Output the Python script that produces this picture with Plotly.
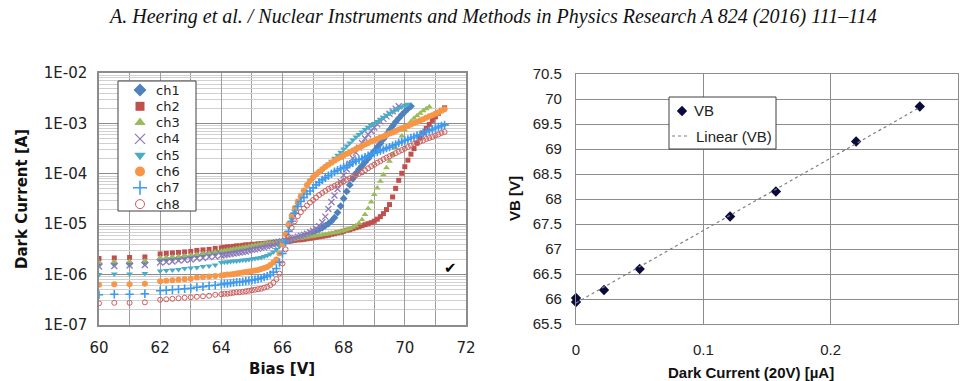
import numpy as np
import plotly.graph_objects as go

# ---------------- data: left panel (dark current vs bias, 8 channels) ----------------
bias_V = [60.0, 60.5, 61.0, 61.5,
          62.0, 62.2, 62.4, 62.6, 62.8, 63.0, 63.2, 63.4, 63.6, 63.8,
          64.0, 64.1, 64.2, 64.3, 64.4, 64.5, 64.6, 64.7, 64.8, 64.9,
          65.0, 65.1, 65.2, 65.3, 65.4, 65.5, 65.6, 65.7, 65.8, 65.9,
          66.0, 66.1, 66.2, 66.3, 66.4, 66.5, 66.6, 66.7, 66.8, 66.9,
          67.0, 67.1, 67.2, 67.3, 67.4, 67.5, 67.6, 67.7, 67.8, 67.9,
          68.0, 68.1, 68.2, 68.3, 68.4, 68.5, 68.6, 68.7, 68.8, 68.9,
          69.0, 69.1, 69.2, 69.3, 69.4, 69.5, 69.6, 69.7, 69.8, 69.9,
          70.0, 70.1, 70.2, 70.3, 70.4, 70.5, 70.6, 70.7, 70.8, 70.9,
          71.0, 71.1, 71.2, 71.3]

# dark current values, stored as log10(I / A)
ch1_log10A = [-5.79, -5.78, -5.78, -5.76,
              -5.70, -5.69, -5.68, -5.67, -5.65, -5.64, -5.62, -5.60, -5.58, -5.56,
              -5.54, -5.53, -5.52, -5.51, -5.50, -5.49, -5.48, -5.47, -5.46, -5.45,
              -5.44, -5.43, -5.42, -5.41, -5.40, -5.39, -5.38, -5.37, -5.36, -5.35,
              -5.34, -5.33, -5.32, -5.31, -5.30, -5.28, -5.26, -5.24, -5.22, -5.19,
              -5.16, -5.13, -5.10, -5.07, -5.03, -4.99, -4.94, -4.87, -4.77, -4.64,
              -4.49, -4.35, -4.22, -4.10, -3.99, -3.91, -3.84, -3.77, -3.70, -3.62,
              -3.55, -3.47, -3.40, -3.31, -3.22, -3.13, -3.05, -2.97, -2.90, -2.83,
              -2.77, -2.71, -2.66]
ch2_log10A = [-5.68, -5.67, -5.66, -5.65,
              -5.59, -5.58, -5.57, -5.56, -5.55, -5.54, -5.52, -5.51, -5.50, -5.48,
              -5.47, -5.46, -5.45, -5.45, -5.44, -5.43, -5.43, -5.42, -5.41, -5.41,
              -5.40, -5.40, -5.39, -5.39, -5.38, -5.38, -5.37, -5.37, -5.36, -5.36,
              -5.35, -5.34, -5.34, -5.33, -5.32, -5.31, -5.31, -5.30, -5.29, -5.28,
              -5.27, -5.26, -5.25, -5.24, -5.23, -5.22, -5.20, -5.19, -5.17, -5.16,
              -5.14, -5.12, -5.11, -5.09, -5.07, -5.05, -5.03, -5.01, -4.99, -4.97,
              -4.94, -4.90, -4.85, -4.79, -4.71, -4.61, -4.46, -4.29, -4.13, -3.99,
              -3.86, -3.73, -3.61, -3.50, -3.39, -3.29, -3.19, -3.10, -3.02, -2.94,
              -2.87, -2.80, -2.74, -2.69]
ch3_log10A = [-5.76, -5.75, -5.74, -5.73,
              -5.67, -5.66, -5.65, -5.64, -5.63, -5.61, -5.60, -5.58, -5.57, -5.55,
              -5.53, -5.52, -5.51, -5.50, -5.49, -5.48, -5.47, -5.46, -5.45, -5.44,
              -5.43, -5.42, -5.41, -5.40, -5.39, -5.38, -5.37, -5.37, -5.36, -5.35,
              -5.34, -5.33, -5.32, -5.31, -5.30, -5.29, -5.28, -5.27, -5.26, -5.25,
              -5.24, -5.23, -5.22, -5.21, -5.20, -5.19, -5.18, -5.17, -5.16, -5.14,
              -5.13, -5.11, -5.09, -5.06, -5.03, -4.98, -4.91, -4.81, -4.69, -4.56,
              -4.41, -4.28, -4.15, -4.02, -3.88, -3.75, -3.62, -3.49, -3.38, -3.25,
              -3.13, -3.04, -2.96, -2.90, -2.85, -2.80, -2.75, -2.71, -2.67]
ch4_log10A = [-5.84, -5.83, -5.82, -5.81,
              -5.76, -5.75, -5.74, -5.72, -5.71, -5.70, -5.68, -5.67, -5.65, -5.64,
              -5.62, -5.61, -5.60, -5.59, -5.58, -5.57, -5.56, -5.55, -5.54, -5.53,
              -5.51, -5.50, -5.49, -5.47, -5.46, -5.44, -5.43, -5.41, -5.39, -5.37,
              -5.35, -5.33, -5.31, -5.29, -5.27, -5.25, -5.23, -5.21, -5.19, -5.16,
              -5.13, -5.09, -5.04, -4.96, -4.85, -4.70, -4.56, -4.43, -4.30, -4.16,
              -4.03, -3.91, -3.80, -3.69, -3.58, -3.48, -3.39, -3.30, -3.22, -3.15,
              -3.08, -3.02, -2.96, -2.91, -2.86, -2.81, -2.76, -2.71, -2.66]
ch5_log10A = [-6.00, -5.99, -5.99, -5.98,
              -5.93, -5.92, -5.91, -5.90, -5.88, -5.87, -5.86, -5.84, -5.83, -5.81,
              -5.76, -5.75, -5.75, -5.74, -5.73, -5.73, -5.72, -5.71, -5.71, -5.70,
              -5.69, -5.68, -5.67, -5.66, -5.64, -5.62, -5.59, -5.55, -5.50, -5.44,
              -5.34, -5.20, -5.05, -4.90, -4.75, -4.61, -4.48, -4.36, -4.24, -4.15,
              -4.08, -4.02, -3.97, -3.93, -3.87, -3.81, -3.75, -3.69, -3.63, -3.57,
              -3.51, -3.45, -3.39, -3.33, -3.27, -3.22, -3.17, -3.12, -3.08, -3.04,
              -3.00, -2.96, -2.92, -2.88, -2.84, -2.80, -2.77, -2.73, -2.70, -2.67,
              -2.64, -2.62]
ch6_log10A = [-6.20, -6.19, -6.19, -6.18,
              -6.13, -6.12, -6.11, -6.10, -6.09, -6.08, -6.06, -6.05, -6.04, -6.03,
              -6.02, -6.01, -6.00, -6.00, -5.99, -5.98, -5.97, -5.96, -5.95, -5.94,
              -5.93, -5.92, -5.91, -5.89, -5.87, -5.85, -5.81, -5.76, -5.70, -5.58,
              -5.40, -5.20, -5.00, -4.83, -4.68, -4.55, -4.44, -4.33, -4.22, -4.14,
              -4.07, -4.01, -3.96, -3.91, -3.86, -3.82, -3.78, -3.74, -3.70, -3.67,
              -3.63, -3.60, -3.57, -3.54, -3.51, -3.48, -3.45, -3.42, -3.39, -3.36,
              -3.34, -3.31, -3.28, -3.26, -3.23, -3.20, -3.18, -3.15, -3.12, -3.10,
              -3.07, -3.05, -3.02, -2.99, -2.97, -2.94, -2.92, -2.89, -2.86, -2.84,
              -2.81, -2.78, -2.75, -2.72]
ch7_log10A = [-6.40, -6.39, -6.39, -6.38,
              -6.32, -6.31, -6.30, -6.29, -6.28, -6.27, -6.25, -6.24, -6.22, -6.21,
              -6.19, -6.18, -6.18, -6.17, -6.16, -6.15, -6.15, -6.14, -6.13, -6.12,
              -6.11, -6.10, -6.09, -6.07, -6.05, -6.03, -6.00, -5.95, -5.88, -5.76,
              -5.58, -5.36, -5.14, -4.94, -4.78, -4.65, -4.55, -4.47, -4.40, -4.34,
              -4.28, -4.22, -4.17, -4.12, -4.08, -4.04, -4.00, -3.96, -3.93, -3.90,
              -3.87, -3.84, -3.81, -3.78, -3.75, -3.72, -3.70, -3.67, -3.64, -3.62,
              -3.59, -3.57, -3.54, -3.52, -3.49, -3.47, -3.44, -3.42, -3.39, -3.37,
              -3.34, -3.32, -3.29, -3.27, -3.24, -3.22, -3.19, -3.17, -3.14, -3.12,
              -3.09, -3.07, -3.05, -3.03]
ch8_log10A = [-6.57, -6.56, -6.56, -6.55,
              -6.50, -6.49, -6.48, -6.47, -6.46, -6.45, -6.44, -6.43, -6.42, -6.40,
              -6.39, -6.38, -6.38, -6.37, -6.36, -6.35, -6.35, -6.34, -6.33, -6.32,
              -6.31, -6.30, -6.29, -6.28, -6.26, -6.24, -6.21, -6.16, -6.09, -5.98,
              -5.78, -5.50, -5.25, -5.07, -4.94, -4.84, -4.76, -4.69, -4.63, -4.57,
              -4.52, -4.47, -4.42, -4.38, -4.34, -4.30, -4.27, -4.24, -4.21, -4.18,
              -4.15, -4.12, -4.09, -4.06, -4.03, -4.00, -3.97, -3.93, -3.89, -3.85,
              -3.82, -3.78, -3.75, -3.71, -3.68, -3.65, -3.62, -3.59, -3.56, -3.53,
              -3.50, -3.47, -3.44, -3.41, -3.39, -3.36, -3.34, -3.31, -3.29, -3.27,
              -3.24, -3.22, -3.19, -3.17]

channel_names = ["ch1", "ch2", "ch3", "ch4", "ch5", "ch6", "ch7", "ch8"]
channel_data = [ch1_log10A, ch2_log10A, ch3_log10A, ch4_log10A,
                ch5_log10A, ch6_log10A, ch7_log10A, ch8_log10A]

y_tick_vals = [1e-7, 1e-6, 1e-5, 1e-4, 1e-3, 1e-2]
y_tick_text = ["1E-07", "1E-06", "1E-05", "1E-04", "1E-03", "1E-02"]

# ---------------- data: right panel (breakdown voltage vs dark current) ----------------
dark_current_uA = [0.000, 0.000, 0.022, 0.050, 0.121, 0.157, 0.220, 0.270]
vb_V = [66.02, 65.94, 66.18, 66.60, 67.65, 68.15, 69.15, 69.85]
right_legend_labels = ["VB", "Linear (VB)"]

# ---------------- styles ----------------
styles = [
    dict(symbol="diamond", color="#4F81BD", size=6),
    dict(symbol="square", color="#C0504D", size=5),
    dict(symbol="triangle-up", color="#9BBB59", size=6),
    dict(symbol="x-thin", color="#8D7AB8", size=6, line=dict(width=1.3, color="#8D7AB8")),
    dict(symbol="triangle-down", color="#4BACC6", size=6),
    dict(symbol="circle", color="#F79646", size=6),
    dict(symbol="cross-thin", color="#3C9AF0", size=6, line=dict(width=1.6, color="#3C9AF0")),
    dict(symbol="circle-open", color="#CD5C5C", size=5, line=dict(width=1, color="#CD5C5C")),
]
legend_styles = [dict(s, size=s["size"] + 4) for s in styles]

W, H = 968, 381
def px(x):
    return x / W
def py(y):
    return 1 - y / H

fig = go.Figure()

for name, logs, st in zip(channel_names, channel_data, styles):
    fig.add_trace(go.Scatter(
        x=bias_V[:len(logs)], y=[10 ** v for v in logs], mode="markers", name=name,
        marker=st, xaxis="x", yaxis="y", showlegend=False))

vb_marker = dict(symbol="diamond", size=8, color="#0B0B3B")
fig.add_trace(go.Scatter(
    x=dark_current_uA, y=vb_V, mode="markers", name="VB",
    marker=vb_marker, xaxis="x2", yaxis="y2", cliponaxis=False, showlegend=False))

slope, intercept = np.polyfit(dark_current_uA, vb_V, 1)
fit_x = [min(dark_current_uA), max(dark_current_uA)]
fit_y = [slope * v + intercept for v in fit_x]
fit_line = dict(color="#7F7F7F", width=1.2, dash="dot")
fig.add_trace(go.Scatter(
    x=fit_x, y=fit_y, mode="lines", name="Linear (VB)",
    line=fit_line, xaxis="x2", yaxis="y2", showlegend=False))

# ---------------- hand-drawn legends on a pixel-space overlay axis ----------------
def box(x0, y0, x1, y1):
    fig.add_trace(go.Scatter(x=[x0, x1, x1, x0, x0], y=[y0, y0, y1, y1, y0],
                             mode="lines", fill="toself", fillcolor="white",
                             line=dict(color="#404040", width=1),
                             xaxis="x3", yaxis="y3", showlegend=False, hoverinfo="skip",
                             cliponaxis=False))

annotations = []
box(118, 81, 196, 211)
for i, (name, st) in enumerate(zip(channel_names, legend_styles)):
    yy = 90 + 16.3 * i
    fig.add_trace(go.Scatter(x=[140], y=[yy], mode="markers", marker=st,
                             xaxis="x3", yaxis="y3", showlegend=False,
                             hoverinfo="skip", cliponaxis=False))
    annotations.append(dict(text=name, x=px(154), y=py(yy), xref="paper", yref="paper",
                            xanchor="left", yanchor="middle", showarrow=False,
                            font=dict(family="DejaVu Sans", size=13, color="#222")))

box(669, 97, 776, 149)
fig.add_trace(go.Scatter(x=[682], y=[111], mode="markers", marker=vb_marker,
                         xaxis="x3", yaxis="y3", showlegend=False, hoverinfo="skip",
                         cliponaxis=False))
fig.add_trace(go.Scatter(x=[672, 690], y=[136, 136], mode="lines", line=fit_line,
                         xaxis="x3", yaxis="y3", showlegend=False, hoverinfo="skip",
                         cliponaxis=False))
for label, xx, yy in zip(right_legend_labels, [692, 694], [111, 136]):
    annotations.append(dict(text=label, x=px(xx), y=py(yy), xref="paper", yref="paper",
                            xanchor="left", yanchor="middle", showarrow=False,
                            font=dict(family="Liberation Sans", size=15, color="#222")))

left_font = dict(family="DejaVu Sans", size=15, color="#222")
right_font = dict(family="Liberation Sans", size=15, color="#222")

annotations += [
    dict(text="<i>A. Heering et al. / Nuclear Instruments and Methods in Physics Research A 824 (2016) 111–114</i>",
         x=px(492), y=py(17), xref="paper", yref="paper", xanchor="center", yanchor="middle",
         showarrow=False, font=dict(family="Liberation Serif", size=20, color="#111")),
    dict(text="<b>Dark Current [A]</b>", x=px(22), y=py(199), xref="paper", yref="paper",
         xanchor="center", yanchor="middle",
         showarrow=False, textangle=-90, font=dict(family="DejaVu Sans", size=15, color="#111")),
    dict(text="<b>Bias [V]</b>", x=px(282), y=py(369), xref="paper", yref="paper",
         xanchor="center", yanchor="middle",
         showarrow=False, font=dict(family="DejaVu Sans", size=15, color="#111")),
    dict(text="<b>VB [V]</b>", x=px(514), y=py(199), xref="paper", yref="paper",
         xanchor="center", yanchor="middle",
         showarrow=False, textangle=-90, font=dict(family="Liberation Sans", size=15, color="#111")),
    dict(text="<b>Dark Current (20V) [µA]</b>", x=px(751), y=py(372), xref="paper", yref="paper",
         xanchor="center", yanchor="middle",
         showarrow=False, font=dict(family="Liberation Sans", size=15, color="#111")),
    dict(text="✔", x=px(450), y=py(268), xref="paper", yref="paper",
         xanchor="center", yanchor="middle",
         showarrow=False, font=dict(family="DejaVu Sans", size=15, color="#000")),
]

fig.update_layout(
    width=W, height=H,
    margin=dict(l=0, r=0, t=0, b=0, pad=0, autoexpand=False),
    paper_bgcolor="white", plot_bgcolor="rgba(0,0,0,0)",
    showlegend=False,
    xaxis=dict(domain=[px(99), px(466)], range=[60, 72], tick0=60, dtick=2,
               showgrid=True, gridcolor="#9E9E9E", gridwidth=1,
               minor=dict(dtick=1, showgrid=True, gridcolor="#9E9E9E", gridwidth=1),
               showline=True, linecolor="#8C8C8C", linewidth=1.5, mirror=True,
               ticks="", ticklabelstandoff=8, tickfont=left_font, zeroline=False,
               automargin=False, anchor="y"),
    yaxis=dict(domain=[py(325), py(73)], type="log", range=[-7, -2],
               tickmode="array", tickvals=y_tick_vals, ticktext=y_tick_text,
               showgrid=True, gridcolor="#8C8C8C", gridwidth=1.3,
               minor=dict(dtick="D1", showgrid=True, gridcolor="#D0D0D0", gridwidth=1),
               showline=True, linecolor="#8C8C8C", linewidth=1.5, mirror=True,
               ticks="", ticklabelstandoff=7, tickfont=left_font, zeroline=False,
               automargin=False, anchor="x"),
    xaxis2=dict(domain=[px(576), px(958)], range=[0, 0.3], tick0=0, dtick=0.1,
                showgrid=True, gridcolor="#8C8C8C", gridwidth=1,
                showline=True, linecolor="#8C8C8C", linewidth=1.2, mirror=True,
                ticks="", ticklabelstandoff=12, tickfont=right_font, zeroline=False,
                automargin=False, anchor="y2"),
    yaxis2=dict(domain=[py(324), py(74)], range=[65.5, 70.5], tick0=65.5, dtick=0.5,
                showgrid=True, gridcolor="#8C8C8C", gridwidth=1,
                showline=True, linecolor="#8C8C8C", linewidth=1.2, mirror=True,
                ticks="", ticklabelstandoff=10, tickfont=right_font, zeroline=False,
                automargin=False, anchor="x2"),
    xaxis3=dict(domain=[0, 1], range=[0, W], visible=False, fixedrange=True,
                automargin=False, anchor="y3"),
    yaxis3=dict(domain=[0, 1], range=[H, 0], visible=False, fixedrange=True,
                automargin=False, anchor="x3"),
    annotations=annotations,
)

fig.write_html("out.html")
